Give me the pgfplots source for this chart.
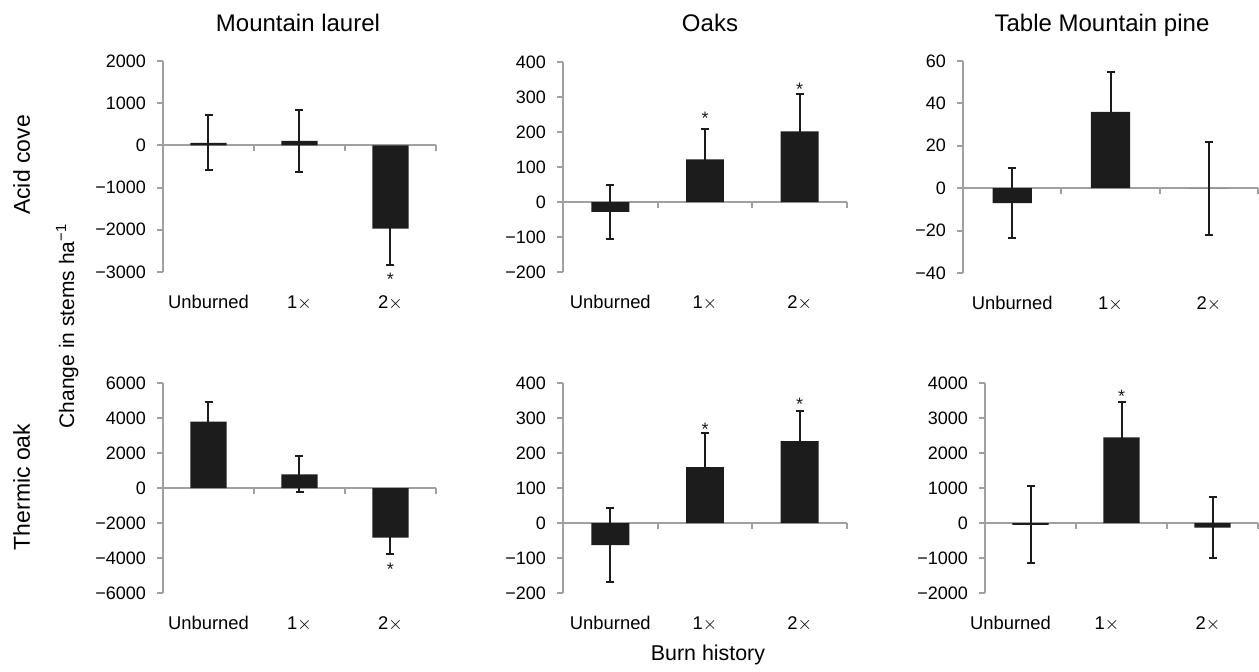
\documentclass[border=0pt]{standalone}
\usepackage{pgfplots}
\pgfplotsset{compat=1.18}
\usepackage{fontspec}
\setmainfont{Liberation Sans}
\definecolor{axgray}{HTML}{A0A0A0}
\definecolor{barblack}{HTML}{1C1C1C}
\pgfplotsset{
  panel/.style={
    scale only axis, anchor=south west,
    axis lines*=left, tick align=outside,
    major tick length=3pt,
    x axis line style={draw=none},
    y axis line style={axgray, line width=1pt},
    ytick style={axgray, line width=1pt},
    xtick style={draw=none},
    xmin=-0.5, xmax=2.5, enlarge x limits=false, enlarge y limits=false,
    xtick={0,1,2}, xticklabels={Unburned,1$\times$,2$\times$},
    xticklabel style={font=\fontsize{9.2}{10}\selectfont, anchor=base, yshift=-15pt},
    yticklabel style={font=\fontsize{9}{10}\selectfont, xshift=-2pt},
    extra y ticks={0}, extra y tick labels={},
    extra y tick style={grid=major, major grid style={axgray, line width=1pt}},
    clip=false,
    ybar, bar width=0.4,
  },
  bars/.style={fill=barblack, draw=none,
    error bars/.cd, y dir=both, y explicit,
    error bar style={barblack, line width=1pt},
    error mark options={rotate=90, mark size=2pt, line width=1pt, barblack}},
}
\tikzset{star/.style={font=\fontsize{9}{10}\selectfont, anchor=base, yshift=-5pt, inner sep=0pt, text=barblack},
  sep/.style={axgray, line width=1pt}}
\newcommand\seps{\draw[sep] (axis cs:0.5,0) -- ++(0pt,-3pt); \draw[sep] (axis cs:1.5,0) -- ++(0pt,-3pt); \draw[sep] (axis cs:2.5,0) -- ++(0pt,-3pt);}
\begin{document}
\begin{tikzpicture}
\path (0,0) rectangle (629.5pt,-332.5pt);
% titles
\node[anchor=base, font=\fontsize{12}{14}\selectfont] at (149pt,-15.8pt) {Mountain laurel};
\node[anchor=base, font=\fontsize{12}{14}\selectfont] at (355pt,-15.8pt) {Oaks};
\node[anchor=base, font=\fontsize{12}{14}\selectfont] at (551pt,-15.8pt) {Table Mountain pine};
\node[anchor=base, rotate=90, font=\fontsize{11.5}{14}\selectfont] at (15pt,-82.5pt) {Acid cove};
\node[anchor=base, rotate=90, font=\fontsize{11.5}{14}\selectfont] at (15pt,-243.5pt) {Thermic oak};
\node[anchor=base, rotate=90, font=\fontsize{10.5}{12}\selectfont] at (37pt,-163pt) {Change in stems ha\textsuperscript{−1}};
\node[anchor=base, font=\fontsize{10.7}{12}\selectfont] at (354pt,-330pt) {Burn history};

% Panel 1
\begin{axis}[panel, at={(81.5pt,-136pt)}, width=136.5pt, height=105.5pt,
  ymin=-3000, ymax=2000, ytick={-3000,-2000,-1000,0,1000,2000},
  yticklabels={−3000,−2000,−1000,0,1000,2000}]
\addplot[bars] table[x=x, y=y, y error=e] {
x y e
0 60 650
1 110 740
2 -1970 860
};
\seps
\node[star] at (axis cs:2,-3080) {*};
\end{axis}

% Panel 2
\begin{axis}[panel, at={(281.5pt,-136pt)}, width=142pt, height=105pt,
  ymin=-200, ymax=400, ytick={-200,-100,0,100,200,300,400},
  yticklabels={−200,−100,0,100,200,300,400}]
\addplot[bars] table[x=x, y=y, y error=e] {
x y e
0 -28 78
1 122 86
2 202 107
};
\seps
\node[star] at (axis cs:1,249) {*};
\node[star] at (axis cs:2,334) {*};
\end{axis}

% Panel 3
\begin{axis}[panel, at={(481.5pt,-136.5pt)}, width=147.5pt, height=106pt,
  ymin=-40, ymax=60, ytick={-40,-20,0,20,40,60},
  yticklabels={−40,−20,0,20,40,60}]
\addplot[bars] table[x=x, y=y, y error=e] {
x y e
0 -7 16.5
1 36 19
2 0 22
};
\seps
\end{axis}

% Panel 4
\begin{axis}[panel, at={(81.5pt,-296.5pt)}, width=136.5pt, height=105pt,
  ymin=-6000, ymax=6000, ytick={-6000,-4000,-2000,0,2000,4000,6000},
  yticklabels={−6000,−4000,−2000,0,2000,4000,6000}]
\addplot[bars] table[x=x, y=y, y error=e] {
x y e
0 3790 1140
1 780 1030
2 -2840 950
};
\seps
\node[star] at (axis cs:2,-4440) {*};
\end{axis}

% Panel 5
\begin{axis}[panel, at={(281.5pt,-296.5pt)}, width=142pt, height=105pt,
  ymin=-200, ymax=400, ytick={-200,-100,0,100,200,300,400},
  yticklabels={−200,−100,0,100,200,300,400}]
\addplot[bars] table[x=x, y=y, y error=e] {
x y e
0 -63 105
1 160 96
2 234 87
};
\seps
\node[star] at (axis cs:1,279) {*};
\node[star] at (axis cs:2,350) {*};
\end{axis}

% Panel 6
\begin{axis}[panel, at={(492.5pt,-296.5pt)}, width=136.5pt, height=105pt,
  xtick={-0.22,0.84,1.95},
  ymin=-2000, ymax=4000, ytick={-2000,-1000,0,1000,2000,3000,4000},
  yticklabels={−2000,−1000,0,1000,2000,3000,4000}]
\addplot[bars] table[x=x, y=y, y error=e] {
x y e
0 -50 1100
1 2450 1010
2 -135 875
};
\seps
\node[star] at (axis cs:1,3743) {*};
\end{axis}
\end{tikzpicture}
\end{document}
